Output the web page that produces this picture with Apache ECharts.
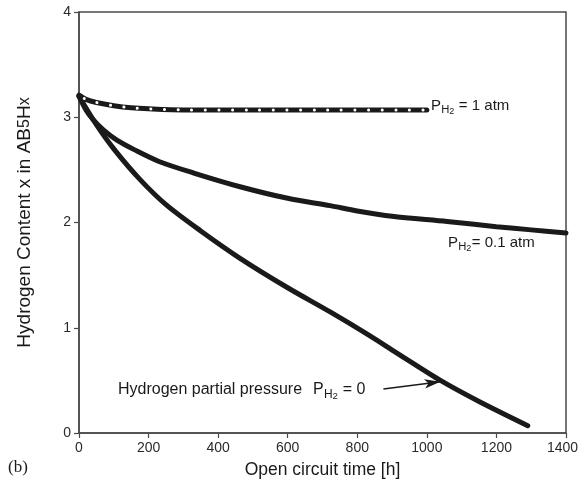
<!DOCTYPE html>
<html>
<head>
<meta charset="utf-8">
<script src="https://cdn.jsdelivr.net/npm/echarts@6/dist/echarts.min.js"></script>
<style>
html,body{margin:0;padding:0;background:#fff;overflow:hidden;}
#chart{width:578px;height:486px;}
</style>
</head>
<body>
<div id="chart"></div>
<script>
// Data
var xTicks = [0, 200, 400, 600, 800, 1000, 1200, 1400];
var yTicks = [0, 1, 2, 3, 4];
var series1atm = [[0,3.21],[20,3.17],[50,3.14],[100,3.11],[150,3.09],[200,3.08],[300,3.07],[500,3.07],[700,3.07],[1000,3.07]];
var series01atm = [[0,3.2],[20,3.07],[40,2.98],[70,2.88],[110,2.78],[160,2.69],[230,2.58],[330,2.47],[463,2.34],[600,2.23],[722,2.16],[800,2.11],[900,2.06],[1058,2.01],[1200,1.96],[1300,1.93],[1400,1.90]];
var series0atm = [[0,3.2],[50,2.93],[100,2.70],[175,2.41],[250,2.17],[350,1.92],[463,1.66],[600,1.38],[722,1.15],[818,0.96],[914,0.76],[1039,0.50],[1150,0.30],[1290,0.07]];
var arrowFrom = [875, 0.418];
var arrowTo = [1039, 0.487];

var chart = echarts.init(document.getElementById('chart'), null, {renderer:'canvas'});
var axisColor = '#4a4a4a';
var font = 'Liberation Sans, Arial, sans-serif';

function subLabel(x, y, main, rest, size) {
  // P with subscript H and sub-subscript 2
  return [
    {type:'text', left:x, top:y, style:{text:main, font: size+'px '+font, fill:'#1a1a1a'}},
    {type:'text', left:x+size*0.68, top:y+size*0.42, style:{text:'H', font:(size*0.75)+'px '+font, fill:'#1a1a1a'}},
    {type:'text', left:x+size*0.68+size*0.54, top:y+size*0.6, style:{text:'2', font:(size*0.6)+'px '+font, fill:'#1a1a1a'}},
    {type:'text', left:x+size*0.68+size*0.54+size*0.36, top:y, style:{text:rest, font: size+'px '+font, fill:'#1a1a1a'}}
  ];
}

var graphics = [];
graphics = graphics.concat(subLabel(431, 98, 'P', ' = 1 atm', 15));
graphics = graphics.concat(subLabel(448, 235, 'P', '= 0.1 atm', 15));
graphics.push({type:'text', left:118, top:382, style:{text:'Hydrogen partial pressure ', font:'16px '+font, fill:'#1a1a1a'}});
graphics = graphics.concat(subLabel(313, 382, 'P', ' = 0', 16));
graphics.push({type:'text', left:8, top:459, style:{text:'(b)', font:'17px Liberation Serif, Times New Roman, serif', fill:'#1a1a1a'}});

var option = {
  backgroundColor:'#fff',
  animation:false,
  grid:{left:79, right:12, top:12, bottom:53, show:true, borderColor:axisColor, borderWidth:1.5, backgroundColor:'transparent', containLabel:false, outerBoundsMode:'none'},
  xAxis:{
    type:'value', min:0, max:1400, interval:200,
    name:'Open circuit time [h]', nameLocation:'middle', nameGap:28,
    nameTextStyle:{fontFamily:font, fontSize:17.5, color:'#1a1a1a'},
    axisLine:{show:true, lineStyle:{color:axisColor, width:1.5}},
    axisTick:{show:true, length:5, lineStyle:{color:axisColor, width:1.2}},
    axisLabel:{fontFamily:font, fontSize:14, color:'#2a2a2a', margin:8,
      rich:{r:{fontFamily:font, fontSize:14, color:'#2a2a2a', padding:[0,7,0,0]}},
      formatter:function(v){
        if (xTicks.indexOf(v) < 0) return '';
        return v === xTicks[xTicks.length-1] ? '{r|' + v + '}' : String(v);
      }},
    splitLine:{show:false}
  },
  yAxis:{
    type:'value', min:0, max:4, interval:1,
    name:'Hydrogen Content x in AB{s|5}H{s|x}', nameLocation:'middle', nameGap:45,
    nameTextStyle:{fontFamily:font, fontSize:19, color:'#1a1a1a', rich:{s:{fontFamily:font, fontSize:16, color:'#1a1a1a'}}},
    axisLine:{show:true, lineStyle:{color:axisColor, width:1.5}},
    axisTick:{show:true, length:5, lineStyle:{color:axisColor, width:1.2}},
    axisLabel:{fontFamily:font, fontSize:14, color:'#2a2a2a', margin:8,
      formatter:function(v){return yTicks.indexOf(v)>=0 ? String(v) : '';}},
    splitLine:{show:false}
  },
  series:[
    {type:'line', data:series0atm, smooth:0.3, showSymbol:false, lineStyle:{color:'#1a1a1a', width:5, cap:'round'},
      markLine:{silent:true, symbol:['none','arrow'], symbolSize:[7,16], label:{show:false},
        lineStyle:{color:'#1a1a1a', width:1.3, type:'solid'},
        data:[[{coord:arrowFrom},{coord:arrowTo}]]}},
    {type:'line', data:series01atm, smooth:0.3, showSymbol:false, lineStyle:{color:'#1a1a1a', width:5, cap:'round'}},
    {type:'line', data:series1atm, smooth:0.3, showSymbol:false, lineStyle:{color:'#1a1a1a', width:5, cap:'round'}},
    {type:'line', data:series1atm, smooth:0.3, showSymbol:false, lineStyle:{color:'#ffffff', width:3, cap:'round', type:[0.1,13.5], dashOffset:-6}}
  ],
  graphic: graphics
};
chart.setOption(option);
</script>
</body>
</html>
